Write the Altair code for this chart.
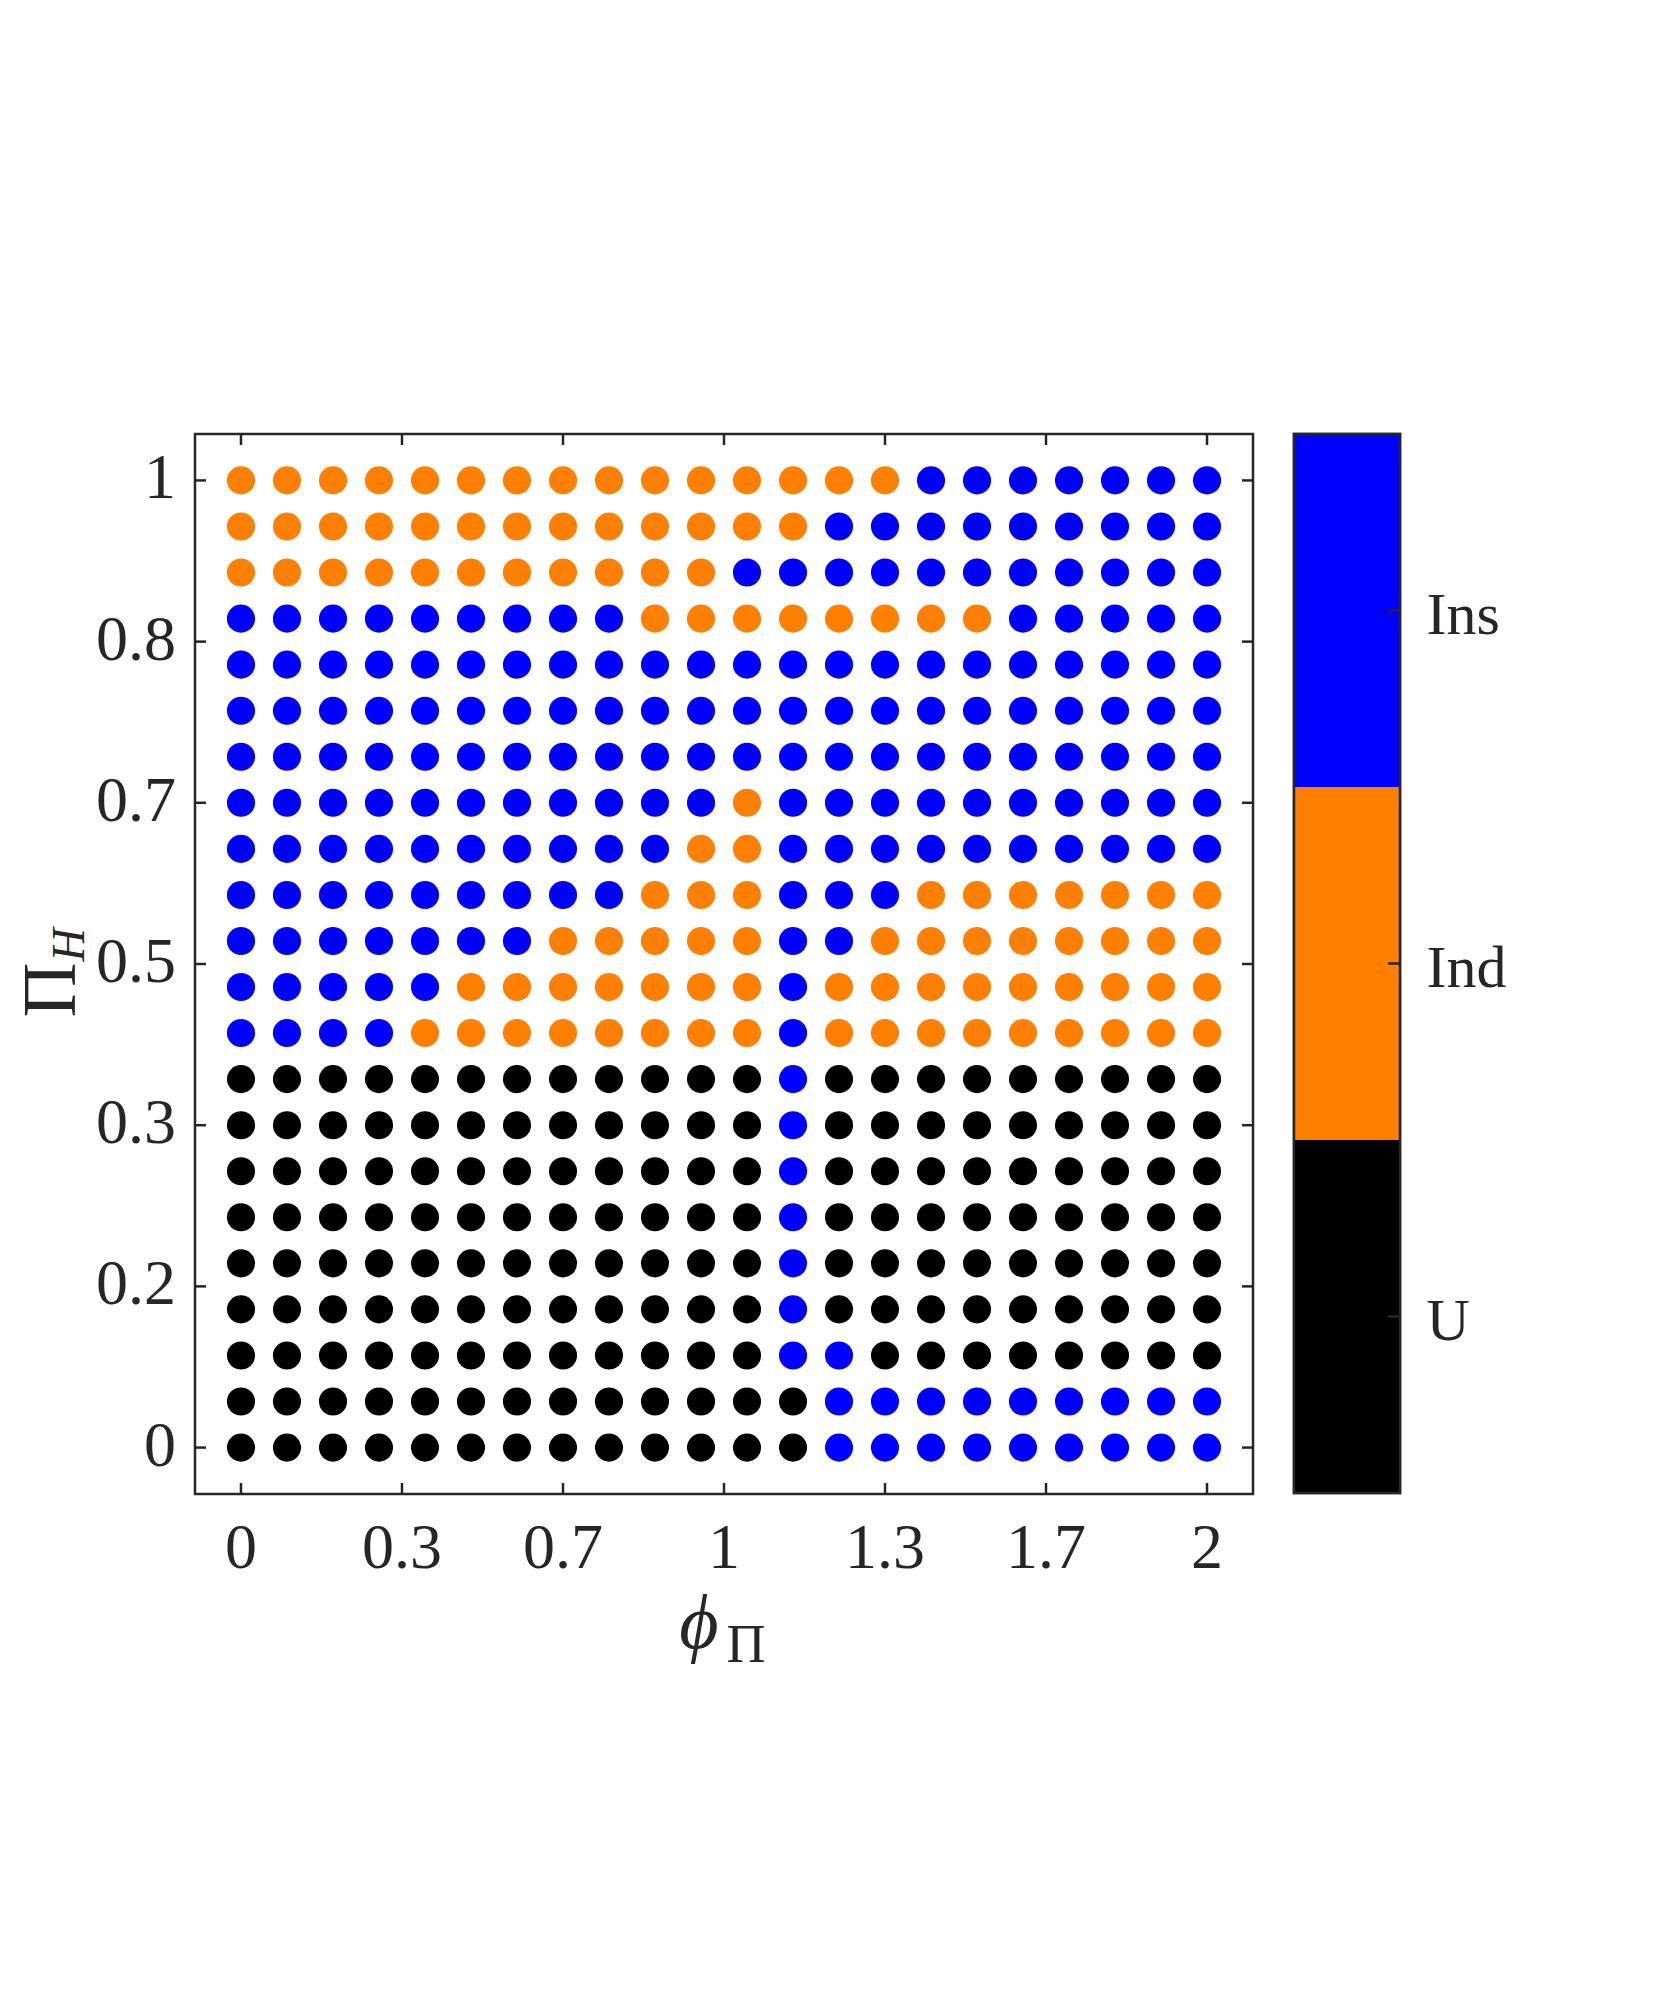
import altair as alt
import pandas as pd

FONT = "Liberation Serif"
TXT = "#262626"

# grid coordinates
phi_vals = [0, 0.0952, 0.1905, 0.2857, 0.381, 0.4762, 0.5714, 0.6667, 0.7619, 0.8571, 0.9524,
            1.0476, 1.1429, 1.2381, 1.3333, 1.4286, 1.5238, 1.619, 1.7143, 1.8095, 1.9048, 2]
pih_vals = [0, 0.0476, 0.0952, 0.1429, 0.1905, 0.2381, 0.2857, 0.3333, 0.381, 0.4286, 0.4762,
            0.5238, 0.5714, 0.619, 0.6667, 0.7143, 0.7619, 0.8095, 0.8571, 0.9048, 0.9524, 1]

# class per grid cell, rows from top (Pi_H = 1) to bottom (Pi_H = 0)
# K = U, O = Ind, B = Ins
rows_top_to_bottom = [
    "OOOOOOOOOOOOOOOBBBBBBB",
    "OOOOOOOOOOOOOBBBBBBBBB",
    "OOOOOOOOOOOBBBBBBBBBBB",
    "BBBBBBBBBOOOOOOOOBBBBB",
    "BBBBBBBBBBBBBBBBBBBBBB",
    "BBBBBBBBBBBBBBBBBBBBBB",
    "BBBBBBBBBBBBBBBBBBBBBB",
    "BBBBBBBBBBBOBBBBBBBBBB",
    "BBBBBBBBBBOOBBBBBBBBBB",
    "BBBBBBBBBOOOBBBOOOOOOO",
    "BBBBBBBOOOOOBBOOOOOOOO",
    "BBBBBOOOOOOOBOOOOOOOOO",
    "BBBBOOOOOOOOBOOOOOOOOO",
    "KKKKKKKKKKKKBKKKKKKKKK",
    "KKKKKKKKKKKKBKKKKKKKKK",
    "KKKKKKKKKKKKBKKKKKKKKK",
    "KKKKKKKKKKKKBKKKKKKKKK",
    "KKKKKKKKKKKKBKKKKKKKKK",
    "KKKKKKKKKKKKBKKKKKKKKK",
    "KKKKKKKKKKKKBBKKKKKKKK",
    "KKKKKKKKKKKKKBBBBBBBBB",
    "KKKKKKKKKKKKKBBBBBBBBB",
]
code_names = {"K": "U", "O": "Ind", "B": "Ins"}
categories = ["U", "Ind", "Ins"]
colors = ["#000000", "#FF8000", "#0000FF"]
cbar_order = ["Ins", "Ind", "U"]

x_ticks = [0, 0.33333, 0.66667, 1, 1.33333, 1.66667, 2]
x_tick_labels = ["0", "0.3", "0.7", "1", "1.3", "1.7", "2"]
y_ticks = [0, 0.16667, 0.33333, 0.5, 0.66667, 0.83333, 1]
y_tick_labels = ["0", "0.2", "0.3", "0.5", "0.7", "0.8", "1"]

records = []
n = len(rows_top_to_bottom)
for r, row in enumerate(rows_top_to_bottom):
    for c, ch in enumerate(row):
        records.append({"phi": phi_vals[c], "pih": pih_vals[n - 1 - r], "cls": code_names[ch]})
df = pd.DataFrame(records)

W, H = 1058, 1060
CBW, CBH = 106, 1059
TL = 11  # inward tick length

xscale = alt.Scale(domain=[-0.0952, 2.0952], nice=False, zero=False)
yscale = alt.Scale(domain=[-0.048, 1.048], nice=False, zero=False)
cscale = alt.Scale(domain=categories, range=colors)

points = alt.Chart(df).mark_circle(size=790, opacity=1).encode(
    x=alt.X("phi:Q", scale=xscale, axis=None),
    y=alt.Y("pih:Q", scale=yscale, axis=None),
    color=alt.Color("cls:N", scale=cscale, legend=None),
)

xt = pd.DataFrame({"v": x_ticks, "lab": x_tick_labels})
yt = pd.DataFrame({"v": y_ticks, "lab": y_tick_labels})
rule_kw = dict(color=TXT, strokeWidth=2.5)
top_t = alt.Chart(xt).mark_rule(**rule_kw).encode(
    x=alt.X("v:Q", scale=xscale, axis=None), y=alt.value(0), y2=alt.value(TL))
bot_t = alt.Chart(xt).mark_rule(**rule_kw).encode(
    x=alt.X("v:Q", scale=xscale, axis=None), y=alt.value(H - TL), y2=alt.value(H))
left_t = alt.Chart(yt).mark_rule(**rule_kw).encode(
    y=alt.Y("v:Q", scale=yscale, axis=None), x=alt.value(0), x2=alt.value(TL))
right_t = alt.Chart(yt).mark_rule(**rule_kw).encode(
    y=alt.Y("v:Q", scale=yscale, axis=None), x=alt.value(W - TL), x2=alt.value(W))
# invisible spacer so the colour bar sits a few pixels higher than the plot frame
spacer = alt.Chart(pd.DataFrame({"a": [0]})).mark_rule(strokeOpacity=0).encode(
    x=alt.value(W / 2), y=alt.value(-4), y2=alt.value(0))

x_labels = alt.Chart(xt).mark_text(
    font=FONT, fontSize=64, color=TXT, align="center", baseline="alphabetic").encode(
    x=alt.X("v:Q", scale=xscale, axis=None), y=alt.value(H + 74), text="lab:N")
y_labels = alt.Chart(yt).mark_text(
    font=FONT, fontSize=64, color=TXT, align="right", baseline="alphabetic", dy=18).encode(
    y=alt.Y("v:Q", scale=yscale, axis=None), x=alt.value(-19), text="lab:N")


def label(text, x, y, size, italic=False, angle=0):
    return alt.Chart(pd.DataFrame({"t": [text]})).mark_text(
        font=FONT, fontSize=size, fontStyle="italic" if italic else "normal",
        color=TXT, align="center", baseline="alphabetic", angle=angle,
    ).encode(text="t:N", x=alt.value(x), y=alt.value(y))


xtitle_main = label("ϕ", 504, H + 154, 76, italic=True)
xtitle_sub = label("Π", 551, H + 168, 54)
ytitle_main = label("Π", -120, 556, 76, angle=270)
ytitle_sub = label("H", -111, 511, 46, italic=True, angle=270)

main = alt.layer(points, top_t, bot_t, left_t, right_t, spacer, x_labels, y_labels,
                 xtitle_main, xtitle_sub, ytitle_main, ytitle_sub).properties(width=W, height=H)

cb_df = pd.DataFrame({"cls": cbar_order})
cb_y = alt.Y("cls:N", sort=cbar_order, scale=alt.Scale(paddingInner=0, paddingOuter=0), axis=None)
cb_rect = alt.Chart(cb_df).mark_rect().encode(
    y=cb_y, x=alt.value(0), x2=alt.value(CBW),
    color=alt.Color("cls:N", scale=cscale, legend=None),
)
cb_ticks = alt.Chart(cb_df).mark_rule(**rule_kw).encode(
    y=cb_y, x=alt.value(CBW - 12), x2=alt.value(CBW))
cb_labels = alt.Chart(cb_df).mark_text(
    font=FONT, fontSize=60, color=TXT, align="left", baseline="alphabetic", dy=23).encode(
    y=cb_y, x=alt.value(CBW + 26.5), text="cls:N")
cb_border = alt.Chart(pd.DataFrame({"a": [0]})).mark_rect(
    filled=False, stroke=TXT, strokeWidth=2.5, fill="transparent").encode(
    x=alt.value(0), x2=alt.value(CBW), y=alt.value(0), y2=alt.value(CBH))
cbar = alt.layer(cb_rect, cb_ticks, cb_labels, cb_border).properties(width=CBW, height=CBH)

chart = alt.hconcat(main, cbar, spacing=35).resolve_scale(
    x="independent", y="independent", color="shared"
).properties(
    padding={"left": 4, "top": 420, "right": 5, "bottom": 5},
    background="white",
).configure_view(stroke=TXT, strokeWidth=2.5)

chart.save("out.html", embed_options={"renderer": "svg", "actions": False})
